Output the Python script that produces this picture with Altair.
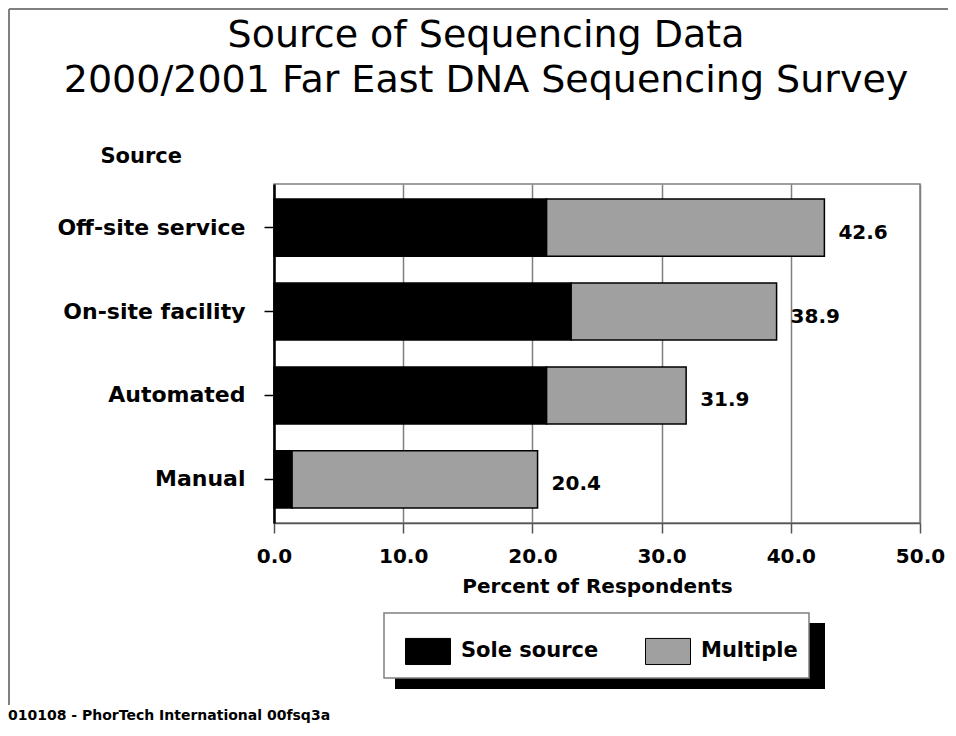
import altair as alt
import pandas as pd

sources = ["Off-site service", "On-site facility", "Automated", "Manual"]
sole = [21.1, 23.0, 21.1, 1.4]
totals = [42.6, 38.9, 31.9, 20.4]
multiple = [round(t - s, 1) for t, s in zip(totals, sole)]
series = ["Sole source", "Multiple"]
colors = ["#000000", "#a0a0a0"]
x_ticks = [0, 10, 20, 30, 40, 50]
title_lines = ["Source of Sequencing Data", "2000/2001 Far East DNA Sequencing Survey"]
footer = ["010108 - PhorTech International 00fsq3a"]

FONT = "DejaVu Sans"

rows = []
for src, s, m in zip(sources, sole, multiple):
    rows.append({"source": src, "type": series[0], "value": s, "order": 0})
    rows.append({"source": src, "type": series[1], "value": m, "order": 1})
df = pd.DataFrame(rows)
tot_df = pd.DataFrame({"source": sources, "total": totals})
foot_df = pd.DataFrame({"t": footer})
one = pd.DataFrame({"k": [0]})

y_scale = alt.Scale(paddingInner=0.32, paddingOuter=0.18)
y_axis = alt.Axis(
    title="Source", titleAngle=0, titleAlign="left", titleBaseline="alphabetic",
    titleX=-174, titleY=-22, titleFont=FONT, titleFontSize=21, titleFontWeight="bold",
    titleColor="black", labelFont=FONT, labelFontSize=22, labelFontWeight="bold",
    labelColor="black", labelPadding=19, labelLimit=400, tickSize=10, tickColor="black",
    tickWidth=1.5, domainColor="black", domainWidth=2.5, grid=False,
)
x_scale = alt.Scale(domain=[0, 50], nice=False)
x_axis = alt.Axis(
    values=x_ticks, format=".1f", title="Percent of Respondents",
    labelFont=FONT, labelFontSize=20, labelFontWeight="bold", labelColor="black",
    labelPadding=13, labelFlush=False, tickSize=10, tickColor="#555555", tickWidth=1.5,
    domainColor="#555555", domainWidth=1.5, grid=True, gridColor="#808080", gridWidth=1.5,
    titleFont=FONT, titleFontSize=20, titleFontWeight="bold", titleColor="black", titlePadding=10,
)

bars = alt.Chart(df).mark_bar(stroke="black", strokeWidth=1.5, opacity=1).encode(
    x=alt.X("value:Q", stack="zero", scale=x_scale, axis=x_axis),
    y=alt.Y("source:N", sort=sources, scale=y_scale, axis=y_axis),
    color=alt.Color(
        "type:N",
        scale=alt.Scale(domain=series, range=colors),
        legend=alt.Legend(
            orient="none", legendX=131, legendY=444, direction="horizontal", title=None,
            padding=0,
            symbolType="M-1,-0.58L1,-0.58L1,0.58L-1,0.58Z", symbolSize=2025,
            symbolStrokeColor="black", symbolStrokeWidth=1, symbolOpacity=1,
            labelFont=FONT, labelFontSize=21, labelFontWeight="bold", labelColor="black",
            labelOffset=10, columnPadding=44,
        ),
    ),
    order=alt.Order("order:Q", sort="ascending"),
)

labels = alt.Chart(tot_df).mark_text(
    align="left", baseline="middle", dx=14, dy=5, font=FONT, fontSize=20,
    fontWeight="bold", color="black",
).encode(
    x=alt.X("total:Q", scale=x_scale, title="Percent of Respondents"),
    y=alt.Y("source:N", sort=sources, title="Source"),
    text=alt.Text("total:Q", format=".1f"),
)

frame_top = alt.Chart(one).mark_rule(color="#808080", strokeWidth=2).encode(
    x=alt.value(-265), x2=alt.value(700), y=alt.value(-175)
)
frame_left = alt.Chart(one).mark_rule(color="#808080", strokeWidth=2).encode(
    x=alt.value(-265), y=alt.value(-175), y2=alt.value(521)
)
shadow = alt.Chart(one).mark_rect(color="black").encode(
    x=alt.value(121), x2=alt.value(551), y=alt.value(439), y2=alt.value(505)
)
legend_box = alt.Chart(one).mark_rect(fill="white", stroke="#808080", strokeWidth=1.5).encode(
    x=alt.value(110), x2=alt.value(535), y=alt.value(429), y2=alt.value(494)
)
foot = alt.Chart(foot_df).mark_text(
    align="left", baseline="alphabetic", font=FONT, fontSize=14, fontWeight="bold", color="black"
).encode(x=alt.value(-266), y=alt.value(536), text="t:N")

chart = alt.layer(frame_top, frame_left, shadow, legend_box, bars, labels, foot).properties(
    width=646,
    height=339,
    autosize=alt.AutoSizeParams(type="none"),
    padding={"left": 266, "top": 176, "right": 28, "bottom": 205},
    background="white",
    title=alt.Title(
        title_lines, font=FONT, fontSize=38, fontWeight="normal", color="black",
        anchor="middle", dx=-111, offset=0, dy=92, lineHeight=45,
    ),
).configure_view(stroke="#808080", strokeWidth=1.5)

chart.save("out.html", embed_options={"renderer": "svg", "actions": False})
